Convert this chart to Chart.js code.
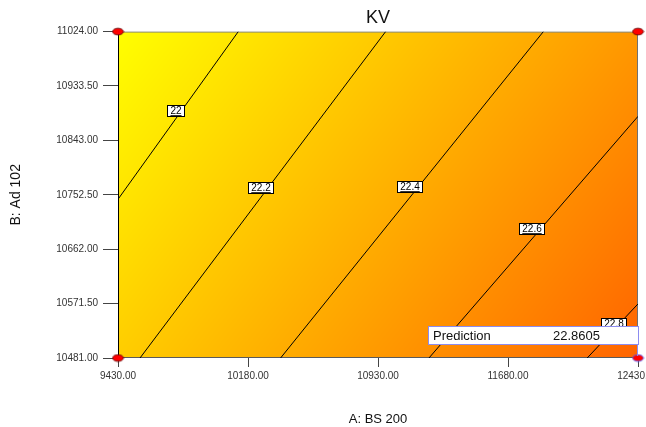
<!DOCTYPE html>
<html>
<head>
<meta charset="utf-8">
<title>KV contour</title>
<script src="https://cdn.jsdelivr.net/npm/chart.js@4.4.1/dist/chart.umd.min.js"></script>
<style>
  html, body { margin: 0; padding: 0; background: #ffffff; }
  #c { display: block; }
</style>
</head>
<body>
<canvas id="c" width="646" height="427"></canvas>
<script>
// Factor ranges (design corners)
const bsRange = [9430, 12430];     // A: BS 200
const adRange = [10481, 11024];    // B: Ad 102

// Predicted KV at the design corners, ordered [A low, A high]
const kvAtAdLow  = [22.17, 22.8605];
const kvAtAdHigh = [21.84, 22.52];

// Axis ticks
const xTickValues = [9430, 10180, 10930, 11680, 12430];
const yTickValues = [10481, 10571.5, 10662, 10752.5, 10843, 10933.5, 11024];

// Contour levels with the two ends of each contour line [A, B]
const contourLevels = [22, 22.2, 22.4, 22.6, 22.8];
const contourStart  = [[9430, 10745], [9557, 10481], [10368, 10481], [11224, 10481], [12137, 10481]];
const contourEnd    = [[10124, 11024], [10974, 11024], [11884, 11024], [12430, 10883], [12430, 10571]];
// Position of each contour's value flag [A, B]
const contourLabelAt = [[9767, 10892], [10255, 10763], [11115, 10765], [11820, 10695], [12294, 10538]];

// Design points
const designA = [9430, 9430, 12430, 12430];
const designB = [11024, 10481, 11024, 10481];

// Prediction flag at the selected design point
const predictionAt = [12430, 10481];
const predictionValue = kvAtAdLow[1];

const FONT = "'Liberation Sans', Arial, Helvetica, sans-serif";
Chart.defaults.font.family = FONT;

function ellipseMarker(stroke) {
  const c = document.createElement('canvas');
  c.width = 13; c.height = 9;
  const g = c.getContext('2d');
  g.beginPath();
  g.ellipse(6.5, 4.5, 5.4, 3.3, 0, 0, Math.PI * 2);
  g.fillStyle = '#ff0000';
  g.fill();
  g.lineWidth = 1;
  g.strokeStyle = stroke;
  g.stroke();
  return c;
}

function kvAt(A, B) {
  const u = (A - bsRange[0]) / (bsRange[1] - bsRange[0]);
  const v = (B - adRange[0]) / (adRange[1] - adRange[0]);
  const low = (1 - u) * kvAtAdLow[0] + u * kvAtAdLow[1];
  const high = (1 - u) * kvAtAdHigh[0] + u * kvAtAdHigh[1];
  return (1 - v) * low + v * high;
}

const kvMin = Math.min(...kvAtAdLow, ...kvAtAdHigh);
const kvMax = Math.max(...kvAtAdLow, ...kvAtAdHigh);

// Response surface shading plus the plot frame
const shadePlugin = {
  id: 'shade',
  beforeDatasetsDraw(chart) {
    const { ctx, chartArea: a, scales: { x, y } } = chart;
    const w = Math.round(a.right - a.left);
    const h = Math.round(a.bottom - a.top);
    const off = document.createElement('canvas');
    off.width = w; off.height = h;
    const g = off.getContext('2d');
    const img = g.createImageData(w, h);
    for (let j = 0; j < h; j++) {
      const B = y.getValueForPixel(a.top + j + 0.5);
      for (let i = 0; i < w; i++) {
        const A = x.getValueForPixel(a.left + i + 0.5);
        let t = (kvAt(A, B) - kvMin) / (kvMax - kvMin);
        t = Math.max(0, Math.min(1, t));
        const k = (j * w + i) * 4;
        img.data[k] = 255;
        img.data[k + 1] = Math.round(255 - t * 155);
        img.data[k + 2] = 0;
        img.data[k + 3] = 255;
      }
    }
    g.putImageData(img, 0, 0);
    ctx.drawImage(off, a.left, a.top);

    ctx.save();
    ctx.lineWidth = 1;
    ctx.strokeStyle = '#8a8a78';
    ctx.beginPath(); ctx.moveTo(a.left, a.top + 0.5); ctx.lineTo(a.right, a.top + 0.5); ctx.stroke();
    ctx.strokeStyle = '#707070';
    ctx.beginPath(); ctx.moveTo(a.right - 0.5, a.top); ctx.lineTo(a.right - 0.5, a.bottom); ctx.stroke();
    ctx.strokeStyle = '#5a5a5a';
    ctx.beginPath(); ctx.moveTo(a.left, a.bottom - 0.5); ctx.lineTo(a.right, a.bottom - 0.5); ctx.stroke();
    ctx.strokeStyle = '#000000';
    ctx.beginPath(); ctx.moveTo(a.left + 0.5, a.top); ctx.lineTo(a.left + 0.5, a.bottom); ctx.stroke();
    ctx.restore();
  }
};

// Contour value flags and the prediction readout
const flagPlugin = {
  id: 'flags',
  afterDatasetsDraw(chart) {
    const { ctx, scales: { x, y } } = chart;
    ctx.save();
    ctx.font = '10px ' + FONT;
    ctx.textAlign = 'center';
    ctx.textBaseline = 'middle';
    contourLevels.forEach((lv, i) => {
      const px = Math.round(x.getPixelForValue(contourLabelAt[i][0]));
      const py = Math.round(y.getPixelForValue(contourLabelAt[i][1]));
      const txt = String(lv);
      const tw = ctx.measureText(txt).width;
      const bw = Math.round(tw + 7), bh = 12;
      const bx = px - Math.round(bw / 2), by = py - 6;
      ctx.fillStyle = '#ffffff';
      ctx.fillRect(bx, by, bw, bh);
      ctx.strokeStyle = '#000000';
      ctx.lineWidth = 1;
      ctx.strokeRect(bx + 0.5, by + 0.5, bw - 1, bh - 1);
      ctx.fillStyle = '#000000';
      ctx.fillText(txt, px, py + 0.5);
      ctx.beginPath();
      ctx.moveTo(px - tw / 2, py + 4.5);
      ctx.lineTo(px + tw / 2, py + 4.5);
      ctx.lineWidth = 0.8;
      ctx.stroke();
    });

    const ptx = x.getPixelForValue(predictionAt[0]);
    const pty = y.getPixelForValue(predictionAt[1]);
    const right = Math.round(ptx) + 1, bottom = Math.round(pty) - 13;
    const left = right - 211, top = bottom - 19;
    ctx.fillStyle = '#ffffff';
    ctx.fillRect(left, top, right - left, bottom - top);
    ctx.strokeStyle = '#8c8cf0';
    ctx.lineWidth = 1;
    ctx.strokeRect(left + 0.5, top + 0.5, right - left - 1, bottom - top - 1);
    ctx.beginPath();
    ctx.moveTo(Math.round(ptx) - 0.5, bottom);
    ctx.lineTo(Math.round(ptx) - 0.5, pty - 2);
    ctx.stroke();
    ctx.font = '13px ' + FONT;
    ctx.textAlign = 'left';
    ctx.fillStyle = '#111111';
    ctx.fillText('Prediction', left + 5, (top + bottom) / 2 + 0.5);
    ctx.fillText(predictionValue.toFixed(4), left + 125, (top + bottom) / 2 + 0.5);
    ctx.restore();
  }
};

const datasets = [{
  label: 'Design points',
  data: designA.map((a, i) => ({ x: a, y: designB[i] })),
  showLine: false,
  pointStyle: designA.map((a, i) =>
    (a === predictionAt[0] && designB[i] === predictionAt[1]) ? ellipseMarker('#5a5af0') : ellipseMarker('#700000')),
  pointRadius: 5,
  clip: false
}];
contourLevels.forEach((lv, i) => {
  datasets.push({
    label: 'KV ' + lv,
    data: [{ x: contourStart[i][0], y: contourStart[i][1] }, { x: contourEnd[i][0], y: contourEnd[i][1] }],
    showLine: true,
    borderColor: '#000000',
    borderWidth: 1,
    pointRadius: 0
  });
});

new Chart(document.getElementById('c'), {
  type: 'scatter',
  data: { datasets },
  plugins: [shadePlugin, flagPlugin],
  options: {
    responsive: false,
    devicePixelRatio: 1,
    animation: false,
    events: [],
    layout: { padding: { left: 0, right: 8, top: 0, bottom: 0 } },
    plugins: {
      legend: { display: false },
      tooltip: { enabled: false },
      title: {
        display: true,
        text: 'KV',
        fullSize: false,
        color: '#111111',
        font: { size: 18, weight: 'normal' },
        padding: { top: 7, bottom: 3 }
      }
    },
    scales: {
      x: {
        type: 'linear',
        min: bsRange[0],
        max: bsRange[1],
        afterBuildTicks: s => { s.ticks = xTickValues.map(v => ({ value: v })); },
        afterFit: s => { s.height = 69; s.paddingLeft = 0; s.paddingRight = 0; },
        ticks: {
          autoSkip: false,
          maxRotation: 0,
          padding: 3,
          color: '#333333',
          font: { size: 10 },
          callback: v => Number(v).toFixed(2)
        },
        grid: { drawOnChartArea: false, drawTicks: true, tickLength: 9, color: '#444444' },
        border: { display: false },
        title: { display: true, text: 'A: BS 200', color: '#111111', font: { size: 13 }, padding: { top: 0, bottom: 0 } }
      },
      y: {
        type: 'linear',
        min: adRange[0],
        max: adRange[1],
        afterBuildTicks: s => { s.ticks = yTickValues.map(v => ({ value: v })); },
        afterFit: s => { s.width = 118; s.paddingTop = 0; s.paddingBottom = 0; },
        ticks: {
          autoSkip: false,
          padding: 5,
          color: '#333333',
          font: { size: 10 },
          callback: v => Number(v).toFixed(2)
        },
        grid: { drawOnChartArea: false, drawTicks: true, tickLength: 15, color: '#444444' },
        border: { display: false },
        title: { display: true, text: 'B: Ad 102', color: '#111111', font: { size: 14 }, padding: { top: 8, bottom: 0 } }
      }
    }
  }
});
</script>
</body>
</html>
